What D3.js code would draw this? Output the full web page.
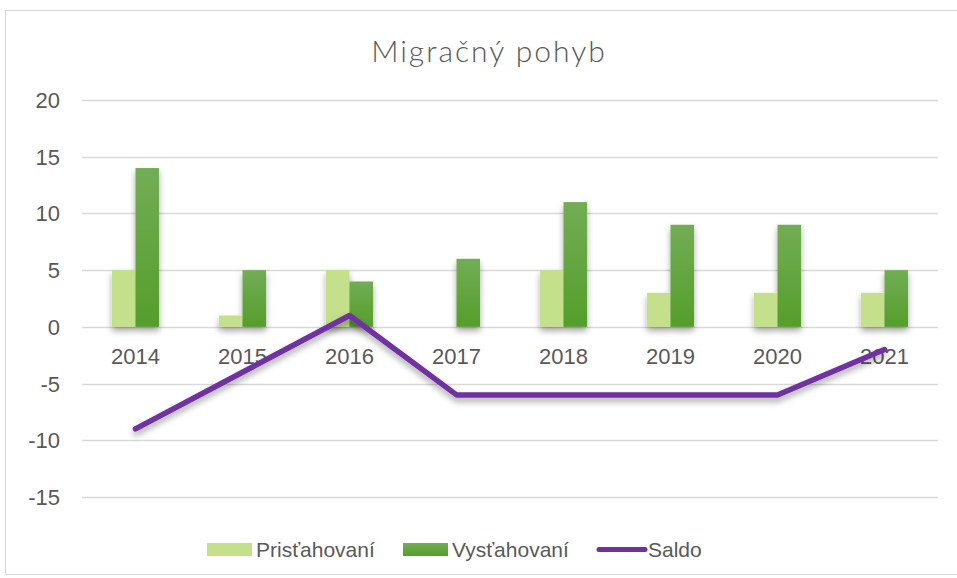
<!DOCTYPE html>
<html>
<head>
<meta charset="utf-8">
<script src="https://cdn.jsdelivr.net/npm/d3@7"></script>
<style>
  body { margin: 0; background: #fff; }
  text { font-family: "Liberation Sans", Arial, sans-serif; fill: #595959; }
</style>
</head>
<body>
<div id="chart"></div>
<script>
// Migračný pohyb - bars + saldo line

var years = ["2014", "2015", "2016", "2017", "2018", "2019", "2020", "2021"];
var pristahovani = [5, 1, 5, 0, 5, 3, 3, 3];
var vystahovani = [14, 5, 4, 6, 11, 9, 9, 5];
var saldo = [-9, -4, 1, -6, -6, -6, -6, -2];
var yTicks = [-15, -10, -5, 0, 5, 10, 15, 20];

var width = 957, height = 578;
var left = 82, right = 938;

var svg = d3.select("#chart").append("svg")
  .attr("width", width).attr("height", height);

var defs = svg.append("defs");
var grad = defs.append("linearGradient").attr("id", "darkGrad")
  .attr("x1", 0).attr("y1", 0).attr("x2", 0).attr("y2", 1);
grad.append("stop").attr("offset", "0%").attr("stop-color", "#72ad55");
grad.append("stop").attr("offset", "100%").attr("stop-color", "#559e2a");

var shadow = defs.append("filter").attr("id", "shadow")
  .attr("x", "-30%").attr("y", "-10%").attr("width", "160%").attr("height", "130%");
shadow.append("feDropShadow").attr("dx", 0).attr("dy", 4).attr("stdDeviation", 3)
  .attr("flood-color", "#000").attr("flood-opacity", 0.35);

// chart border
svg.append("rect")
  .attr("x", 5.5).attr("y", 10.5).attr("width", 960).attr("height", 564)
  .attr("fill", "none").attr("stroke", "#d9d9d9").attr("stroke-width", 1);

svg.append("text")
  .attr("x", 489).attr("y", 62)
  .attr("text-anchor", "middle")
  .style("font-family", "'Lato', sans-serif")
  .style("font-weight", 300)
  .style("font-size", "30px")
  .style("letter-spacing", "2px")
  .style("fill", "#595959")
  .text("Migračný pohyb");

var y = d3.scaleLinear().domain([-15, 20]).range([497, 100]);
var x = d3.scaleBand().domain(years).range([left, right]).paddingInner(0.56).paddingOuter(0.28);
var sub = d3.scaleBand().domain(["p", "v"]).range([0, x.bandwidth()]);

// gridlines
svg.append("g").selectAll("line")
  .data(yTicks)
  .enter().append("line")
    .attr("x1", left).attr("x2", right)
    .attr("y1", function(d) { return Math.round(y(d)) + 0.5; })
    .attr("y2", function(d) { return Math.round(y(d)) + 0.5; })
    .attr("stroke", "#d9d9d9").attr("stroke-width", 1.5);

// y labels
svg.append("g").selectAll("text")
  .data(yTicks)
  .enter().append("text")
    .attr("x", 60).attr("y", function(d) { return y(d) + 8; })
    .attr("text-anchor", "end")
    .style("font-size", "22px")
    .text(function(d) { return d; });

// bars
var groups = svg.append("g").selectAll("g")
  .data(years)
  .enter().append("g")
    .attr("transform", function(d) { return "translate(" + x(d) + ",0)"; })
    .attr("filter", "url(#shadow)");

groups.append("rect")
  .attr("x", sub("p"))
  .attr("width", sub.bandwidth())
  .attr("y", function(d, i) { return y(pristahovani[i]); })
  .attr("height", function(d, i) { return y(0) - y(pristahovani[i]); })
  .attr("fill", "#c5e08a");

groups.append("rect")
  .attr("x", sub("v"))
  .attr("width", sub.bandwidth())
  .attr("y", function(d, i) { return y(vystahovani[i]); })
  .attr("height", function(d, i) { return y(0) - y(vystahovani[i]); })
  .attr("fill", "url(#darkGrad)");

// x labels
svg.append("g").selectAll("text")
  .data(years)
  .enter().append("text")
    .attr("x", function(d) { return x(d) + x.bandwidth() / 2; })
    .attr("y", 364)
    .attr("text-anchor", "middle")
    .style("font-size", "22px")
    .text(function(d) { return d; });

// saldo line
var line = d3.line()
  .x(function(d, i) { return x(years[i]) + x.bandwidth() / 2; })
  .y(function(d) { return y(d); });

svg.append("path")
  .datum(saldo)
  .attr("d", line)
  .attr("fill", "none")
  .attr("stroke", "#7030a0")
  .attr("stroke-width", 5.5)
  .attr("stroke-linecap", "round")
  .attr("stroke-linejoin", "round")
  .attr("filter", "url(#shadow)");

// legend
var legend = svg.append("g");
legend.append("rect").attr("x", 207).attr("y", 543).attr("width", 45).attr("height", 13).attr("fill", "#c5e08a");
legend.append("text").attr("x", 256).attr("y", 557).style("font-size", "21px").text("Prisťahovaní");
legend.append("rect").attr("x", 403).attr("y", 543).attr("width", 45).attr("height", 13).attr("fill", "url(#darkGrad)");
legend.append("text").attr("x", 452).attr("y", 557).style("font-size", "21px").text("Vysťahovaní");
legend.append("line").attr("x1", 599).attr("x2", 645).attr("y1", 549.5).attr("y2", 549.5)
  .attr("stroke", "#7030a0").attr("stroke-width", 5).attr("stroke-linecap", "round");
legend.append("text").attr("x", 648).attr("y", 557).style("font-size", "21px").text("Saldo");
</script>
</body>
</html>
